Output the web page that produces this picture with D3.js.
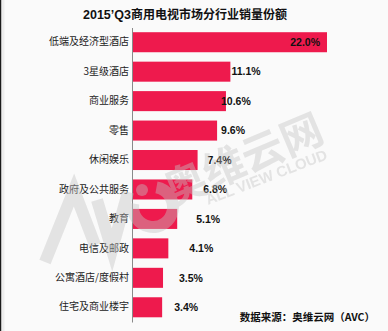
<!DOCTYPE html>
<html>
<head>
<meta charset="utf-8">
<script src="https://cdn.jsdelivr.net/npm/d3@7"></script>
<style>
  html, body { margin: 0; padding: 0; background: #fafafa; }
  svg { display: block; }
</style>
</head>
<body>
<svg id="chart" width="388" height="331"></svg>
<script>
// Commercial TV sales share by industry, 2015 Q3
const categories = [
  "低端及经济型酒店", "3星级酒店", "商业服务", "零售", "休闲娱乐",
  "政府及公共服务", "教育", "电信及邮政", "公寓酒店/度假村", "住宅及商业楼宇"
];
const shares = [22.0, 11.1, 10.6, 9.6, 7.4, 6.8, 5.1, 4.1, 3.5, 3.4];
const valueLabels = ["22.0%", "11.1%", "10.6%", "9.6%", "7.4%", "6.8%", "5.1%", "4.1%", "3.5%", "3.4%"];
const xTicks = [0, 22];
const titlePeriod = "2015’Q3";
const titleText = "商用电视市场分行业销量份额";
const sourceText = "数据来源：奥维云网（AVC）";

// hand-placed label offsets from the bar end (first label sits inside its bar)
const labelDx = [-7, 1, -5, 4, 10, 11, 19, 21, 16, 12];

const W = 388, H = 331;
const svg = d3.select("#chart");
const cjk = "'Noto Sans CJK SC', 'Noto Sans', sans-serif";
const latin = "'Liberation Sans', Arial, sans-serif";

svg.append("rect").attr("width", W).attr("height", H).attr("fill", "#fafafa");
// frame edge on the left
svg.append("rect").attr("x", 0).attr("y", 0).attr("width", 1.5).attr("height", H).attr("fill", "#1a1a1a");
svg.append("rect").attr("x", 1.5).attr("y", 0).attr("width", 3).attr("height", H).attr("fill", "#ededed");

const x = d3.scaleLinear().domain(d3.extent(xTicks)).range([132, 327]);
const y = d3.scaleBand().domain(categories).range([27.5, 322]).paddingInner(0.32).paddingOuter(0.16);

// title
const title = svg.append("text")
  .attr("x", 185).attr("y", 18.5)
  .attr("text-anchor", "middle")
  .attr("font-weight", "bold").attr("font-size", 12.5)
  .attr("fill", "#111");
title.append("tspan").attr("font-family", latin).text(titlePeriod);
title.append("tspan").attr("font-family", cjk).attr("font-size", 12).text(titleText);

// bars
const rows = categories.map((c, i) => ({ cat: c, v: shares[i], label: valueLabels[i], dx: labelDx[i] }));

svg.append("g").selectAll("rect").data(rows).join("rect")
  .attr("x", x(0))
  .attr("y", d => y(d.cat))
  .attr("width", d => x(d.v) - x(0))
  .attr("height", y.bandwidth())
  .attr("fill", "#ee1a4d");

// value labels
svg.append("g").selectAll("text").data(rows).join("text")
  .attr("x", d => x(d.v) + d.dx)
  .attr("y", d => y(d.cat) + y.bandwidth() / 2)
  .attr("dy", "0.35em")
  .attr("text-anchor", d => d.dx < 0 && d.v === d3.max(shares) ? "end" : "start")
  .attr("font-family", latin).attr("font-weight", "bold").attr("font-size", 10.5)
  .attr("fill", "#111")
  .text(d => d.label);

// category axis
const axis = svg.append("g")
  .attr("transform", `translate(${x(0)},0)`)
  .call(d3.axisLeft(y).tickSize(0).tickSizeOuter(0).tickPadding(3));
axis.select(".domain").attr("stroke", "#8a8a8a").attr("stroke-width", 1);
axis.selectAll(".tick text")
  .attr("font-family", cjk).attr("font-size", 10)
  .attr("fill", "#222");

// source note
svg.append("text")
  .attr("x", 375).attr("y", 320.5)
  .attr("text-anchor", "end")
  .attr("font-family", cjk).attr("font-weight", "bold").attr("font-size", 10.5)
  .attr("fill", "#111")
  .text(sourceText);

// AVC watermark
const wm = svg.append("g").attr("pointer-events", "none").attr("opacity", 0.42);
const wmColor = "#c4c4c4";
wm.append("path")
  .attr("d", d3.line()([[45, 262], [74, 190], [95, 245]]))
  .attr("fill", "none").attr("stroke", wmColor).attr("stroke-width", 12).attr("stroke-linejoin", "miter");
wm.append("path")
  .attr("d", d3.line()([[97, 200], [112, 250], [128, 192]]))
  .attr("fill", "none").attr("stroke", wmColor).attr("stroke-width", 12).attr("stroke-linejoin", "miter");
wm.append("path")
  .attr("transform", "translate(153,207)")
  .attr("d", d3.arc()({ innerRadius: 14, outerRadius: 26, startAngle: 10 * Math.PI / 180, endAngle: 280 * Math.PI / 180 }))
  .attr("fill", wmColor);
wm.append("circle").attr("cx", 142).attr("cy", 190).attr("r", 6).attr("fill", wmColor);
wm.append("text")
  .attr("transform", "translate(172,206) rotate(-23)")
  .attr("font-family", cjk).attr("font-weight", "bold").attr("font-size", 42)
  .attr("fill", wmColor)
  .text("奥维云网");
wm.append("text")
  .attr("transform", "translate(208,205) rotate(-21)")
  .attr("font-family", latin).attr("font-weight", "bold").attr("font-size", 15)
  .attr("fill", wmColor)
  .text("ALL VIEW CLOUD");
</script>
</body>
</html>
